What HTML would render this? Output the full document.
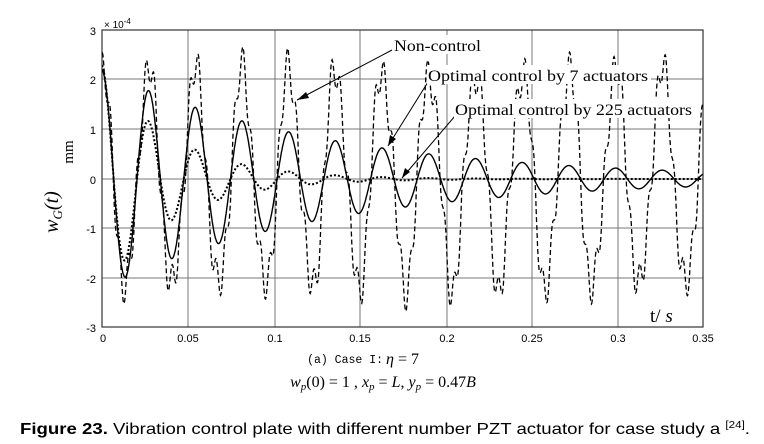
<!DOCTYPE html>
<html><head><meta charset="utf-8"><style>
html,body{margin:0;padding:0;background:#fff;}
svg{display:block;}
</style></head><body>
<svg id="s" width="764" height="444" viewBox="0 0 764 444" xmlns="http://www.w3.org/2000/svg">
<defs><clipPath id="c"><rect x="102" y="30" width="601" height="297"/></clipPath></defs>
<g stroke="#777" stroke-width="1" fill="none">
<line x1="188" y1="30" x2="188" y2="327"/><line x1="275" y1="30" x2="275" y2="327"/>
<line x1="360" y1="30" x2="360" y2="327"/><line x1="447" y1="30" x2="447" y2="327"/>
<line x1="532" y1="30" x2="532" y2="327"/><line x1="618" y1="30" x2="618" y2="327"/>
<line x1="102" y1="79" x2="703" y2="79"/><line x1="102" y1="129" x2="703" y2="129"/>
<line x1="102" y1="179" x2="703" y2="179"/><line x1="102" y1="228" x2="703" y2="228"/>
<line x1="102" y1="278" x2="703" y2="278"/>
</g>
<rect x="102" y="30" width="601" height="297" fill="none" stroke="#333" stroke-width="1.2"/>
<g id="curves" clip-path="url(#c)"></g>
<g font-family="Liberation Sans, sans-serif" font-size="11" fill="#000">
<text x="96" y="35" text-anchor="end">3</text><text x="96" y="84" text-anchor="end">2</text>
<text x="96" y="134" text-anchor="end">1</text><text x="96" y="184" text-anchor="end">0</text>
<text x="96" y="233" text-anchor="end">-1</text><text x="96" y="283" text-anchor="end">-2</text>
<text x="96" y="332" text-anchor="end">-3</text>
<text x="103" y="342" text-anchor="middle">0</text><text x="188" y="342" text-anchor="middle">0.05</text>
<text x="275" y="342" text-anchor="middle">0.1</text><text x="360" y="342" text-anchor="middle">0.15</text>
<text x="447" y="342" text-anchor="middle">0.2</text><text x="532" y="342" text-anchor="middle">0.25</text>
<text x="618" y="342" text-anchor="middle">0.3</text><text x="703" y="342" text-anchor="middle">0.35</text>
<text x="104" y="28" font-size="10">× 10<tspan dy="-4" font-size="8">-4</tspan></text>
</g>
<g font-family="Liberation Serif, serif" fill="#000">
<text transform="translate(73,152) rotate(-90)" font-size="15" text-anchor="middle">mm</text>
<text transform="translate(58,212) rotate(-90)" font-size="20" font-style="italic" text-anchor="middle">w<tspan font-size="13" dy="4">G</tspan><tspan dy="-4">(t)</tspan></text>
<text x="650" y="322" font-size="19">t/ <tspan font-style="italic">s</tspan></text>
</g>
<g stroke="#000" stroke-width="1" fill="none">
<line x1="392" y1="50" x2="297" y2="100"/><line x1="428" y1="82" x2="388" y2="146"/><line x1="455" y1="116" x2="402" y2="178"/>
</g>
<g fill="#000"><polygon points="297,100 306,92 309,98"/><polygon points="388,146 390,135 396,139"/><polygon points="402,178 405,168 410,172"/></g>
<g font-family="Liberation Serif, serif" font-size="16" fill="#000">
<rect x="393" y="35" width="92" height="19" fill="#fff"/><text x="394" y="51" textLength="87" lengthAdjust="spacingAndGlyphs">Non-control</text>
<rect x="427" y="65" width="224" height="19" fill="#fff"/><text x="428" y="81" textLength="220" lengthAdjust="spacingAndGlyphs">Optimal control by 7 actuators</text>
<rect x="454" y="99" width="241" height="19" fill="#fff"/><text x="455" y="115" textLength="237" lengthAdjust="spacingAndGlyphs">Optimal control by 225 actuators</text>
</g>
<text x="383" y="363" font-family="Liberation Mono, monospace" font-size="11.5" text-anchor="end" fill="#000">(a) Case I:</text>
<text x="386" y="364" font-family="Liberation Serif, serif" font-size="16" fill="#000"><tspan font-style="italic">η</tspan> = 7</text>
<text x="383" y="387" font-family="Liberation Serif, serif" font-size="16" text-anchor="middle" fill="#000"><tspan font-style="italic">w<tspan font-size="11" dy="3">p</tspan></tspan><tspan dy="-3">(0) = 1 , </tspan><tspan font-style="italic">x<tspan font-size="11" dy="3">p</tspan></tspan><tspan dy="-3"> = </tspan><tspan font-style="italic">L</tspan>, <tspan font-style="italic">y<tspan font-size="11" dy="3">p</tspan></tspan><tspan dy="-3"> = 0.47</tspan><tspan font-style="italic">B</tspan></text>
<text x="20" y="434" font-family="Liberation Sans Narrow, Liberation Sans, sans-serif" font-size="16" fill="#000" textLength="730" lengthAdjust="spacingAndGlyphs"><tspan font-weight="bold">Figure 23.</tspan> Vibration control plate with different number PZT actuator for case study a <tspan font-size="10" dy="-6">[24]</tspan><tspan dy="6">.</tspan></text>
</svg>
<script>
(function(){
var X=function(t){return 102+t/0.35*601;},Y=function(v){return 179-v*49.5;};
var w=2*Math.PI/0.0272;
function path(f){var d="";for(var i=0;i<=1400;i++){var t=i/1400*0.35;d+=(i?"L":"M")+X(t).toFixed(1)+","+Y(f(t)).toFixed(1);}return d;}
var nc=function(t){return 2.2*Math.cos(w*t)+0.35*Math.cos(5.3*w*t+0.3*Math.sin(40*t))+0.15*Math.sin(2.1*w*t);};
var s7=function(t){var e=2.2*Math.exp(-t/0.13);return e*Math.cos(w*t);};
var s225=function(t){return 2.3*Math.exp(-t/0.04)*Math.cos(w*t);};
var g=document.getElementById("curves"),ns="http://www.w3.org/2000/svg";
function add(f,da,sw){var p=document.createElementNS(ns,"path");p.setAttribute("d",path(f));p.setAttribute("fill","none");p.setAttribute("stroke","#000");p.setAttribute("stroke-width",sw);if(da)p.setAttribute("stroke-dasharray",da);g.appendChild(p);}
add(nc,"5,3",1.3);add(s7,null,1.4);add(s225,"2,2",2);
})();
</script>
</body></html>
